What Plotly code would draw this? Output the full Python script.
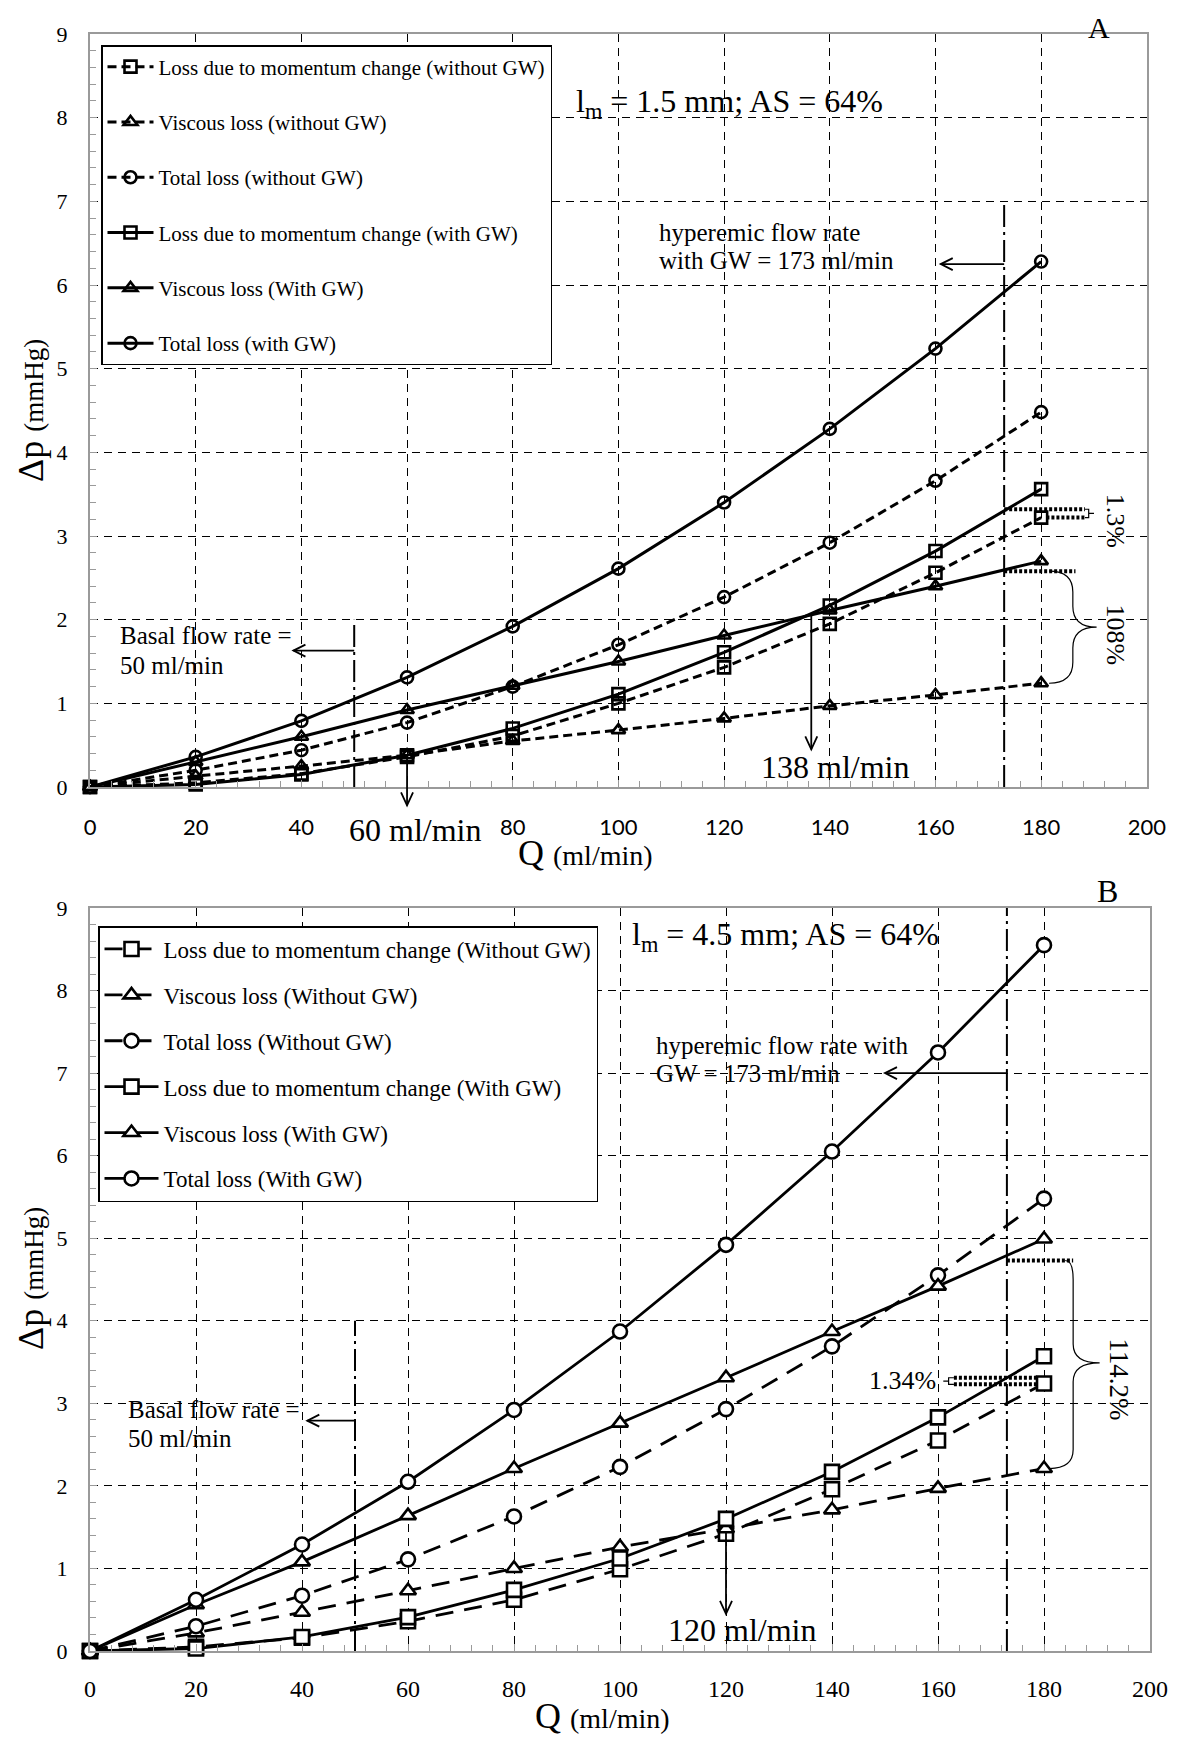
import plotly.graph_objects as go

# ---------------- data ----------------
Q = [0, 20, 40, 60, 80, 100, 120, 140, 160, 180]

# Panel A  (l_m = 1.5 mm)
a_mom_wo = [0, 0.05, 0.16, 0.36, 0.61, 1.00, 1.43, 1.95, 2.56, 3.22]
a_visc_wo = [0, 0.13, 0.25, 0.38, 0.55, 0.68, 0.82, 0.97, 1.10, 1.24]
a_tot_wo = [0, 0.20, 0.44, 0.77, 1.20, 1.70, 2.27, 2.92, 3.66, 4.48]
a_mom_w = [0, 0.03, 0.15, 0.38, 0.70, 1.11, 1.61, 2.17, 2.82, 3.56]
a_visc_w = [0, 0.30, 0.60, 0.92, 1.21, 1.50, 1.81, 2.11, 2.40, 2.70]
a_tot_w = [0, 0.36, 0.79, 1.31, 1.92, 2.61, 3.40, 4.28, 5.24, 6.28]

# Panel B  (l_m = 4.5 mm)
b_mom_wo = [0, 0.05, 0.16, 0.36, 0.62, 0.99, 1.42, 1.96, 2.55, 3.24]
b_visc_wo = [0, 0.22, 0.47, 0.73, 1.00, 1.26, 1.48, 1.71, 1.97, 2.21]
b_tot_wo = [0, 0.30, 0.67, 1.11, 1.63, 2.23, 2.93, 3.69, 4.55, 5.48]
b_mom_w = [0, 0.03, 0.17, 0.41, 0.74, 1.12, 1.60, 2.17, 2.83, 3.57]
b_visc_w = [0, 0.56, 1.08, 1.64, 2.21, 2.76, 3.31, 3.87, 4.42, 4.99]
b_tot_w = [0, 0.62, 1.29, 2.05, 2.92, 3.87, 4.92, 6.05, 7.25, 8.55]

names_a = ["Loss due to momentum change (without GW)", "Viscous loss (without GW)",
           "Total loss (without GW)", "Loss due to momentum change (with GW)",
           "Viscous loss (With GW)", "Total loss (with GW)"]
names_b = ["Loss due to momentum change (Without GW)", "Viscous loss (Without GW)",
           "Total loss (Without GW)", "Loss due to momentum change (With GW)",
           "Viscous loss (With GW)", "Total loss (With GW)"]

x_ticks = [0, 20, 40, 60, 80, 100, 120, 140, 160, 180, 200]
x_labels_a = ["0", "20", "40", "", "80", "100", "120", "140", "160", "180", "200"]
x_labels_b = ["0", "20", "40", "60", "80", "100", "120", "140", "160", "180", "200"]
y_ticks = [0, 1, 2, 3, 4, 5, 6, 7, 8, 9]

SERIF = "Liberation Serif"
SANS = "Lato"

fig = go.Figure()
symbols = ["square", "triangle-up", "circle"] * 2

series_a = [a_mom_wo, a_visc_wo, a_tot_wo, a_mom_w, a_visc_w, a_tot_w]
for i, (vals, nm) in enumerate(zip(series_a, names_a)):
    dashed = i < 3
    fig.add_trace(go.Scatter(
        x=Q, y=vals, name=nm, mode="lines+markers", xaxis="x", yaxis="y",
        legend="legend", legendgroup="a%d" % i, cliponaxis=False,
        line=dict(color="black", width=3, dash="9px,5px" if dashed else "solid"),
        marker=dict(symbol=symbols[i] + "-open", size=12, color="black",
                    line=dict(color="black", width=2.6)),
    ))

series_b = [b_mom_wo, b_visc_wo, b_tot_wo, b_mom_w, b_visc_w, b_tot_w]
for i, (vals, nm) in enumerate(zip(series_b, names_b)):
    dashed = i < 3
    fig.add_trace(go.Scatter(
        x=Q, y=vals, name=nm, mode="lines+markers", xaxis="x2", yaxis="y2",
        legend="legend2", legendgroup="b%d" % i, cliponaxis=False,
        line=dict(color="black", width=2.8, dash="18px,11px" if dashed else "solid"),
        marker=dict(symbol=symbols[i], size=14, color="white",
                    line=dict(color="black", width=2.6)),
    ))

def axis_common(tickvals, ticktext, dtick_minor, font, standoff):
    return dict(
        tickvals=tickvals, ticktext=ticktext, showgrid=True, gridcolor="black", gridwidth=1,
        griddash="8px,6px", showline=True, linecolor="#9a9a9a", linewidth=2,
        mirror=True, ticks="inside", ticklen=7, tickcolor="#9a9a9a",
        minor=dict(ticks="inside", dtick=dtick_minor, ticklen=6, tickcolor="#9a9a9a",
                   showgrid=False),
        zeroline=False, tickfont=font, ticklabelstandoff=standoff,
    )

# page has an 8px body margin; figure is placed at (8, 8)
W, H = 1192, 1750
L, R, T, B = 82, 50, 26, 107
PW = W - L - R
PH = H - T - B

def px(sx):  # screen pixel x -> paper x
    return (sx - 8 - L) / PW

def py(sy):  # screen pixel y -> paper y
    return (H - B - (sy - 8)) / PH

A_X1 = 0.997
A_Y0 = py(787)
B_Y1 = py(908)

def paA(q, v):
    return A_X1 * q / 200.0, A_Y0 + (1 - A_Y0) * v / 9.0

def paB(q, v):
    return q / 200.0, B_Y1 * v / 9.0

xa = axis_common(x_ticks, x_labels_a, 4, dict(family=SANS, size=22, color="black"), 20)
xa.update(domain=[0, A_X1], anchor="y", range=[0, 200])
ya = axis_common(y_ticks, [str(v) for v in y_ticks], 0.2,
                 dict(family=SERIF, size=22, color="black"), 16)
ya.update(domain=[A_Y0, 1], anchor="x", range=[0, 9])
xb = axis_common(x_ticks, x_labels_b, 4, dict(family=SERIF, size=24, color="black"), 15)
xb.update(domain=[0, 1], anchor="y2", range=[0, 200])
yb = axis_common(y_ticks, [str(v) for v in y_ticks], 0.2,
                 dict(family=SERIF, size=22, color="black"), 16)
yb.update(domain=[0, B_Y1], anchor="x2", range=[0, 9])

shapes = []
annotations = []

def vline(x, y0, y1, xr, yr, dash="22px,5px,3px,5px", width=2):
    shapes.append(dict(type="line", xref=xr, yref=yr, x0=x, x1=x, y0=y0, y1=y1,
                       line=dict(color="black", width=width, dash=dash)))

def hline(y, x0, x1, xr, yr, dash="solid", width=1.8):
    shapes.append(dict(type="line", xref=xr, yref=yr, x0=x0, x1=x1, y0=y, y1=y,
                       line=dict(color="black", width=width, dash=dash)))

def seg(x0, y0, x1, y1, xr, yr, width=1.8):
    shapes.append(dict(type="line", xref=xr, yref=yr, x0=x0, x1=x1, y0=y0, y1=y1,
                       line=dict(color="black", width=width)))

def head(x, y, xr, yr, direction):
    if direction == "left":
        p = "M 12 -6 L 0 0 L 12 6"
    else:
        p = "M -6 13 L 0 0 L 6 13"
    shapes.append(dict(type="path", xref=xr, yref=yr, xsizemode="pixel", ysizemode="pixel",
                       xanchor=x, yanchor=y, path=p,
                       line=dict(color="black", width=1.8)))

def text(t, x, y, xr, yr, size, xanchor="left", angle=0, yanchor="middle"):
    annotations.append(dict(text=t, x=x, y=y, xref=xr, yref=yr, showarrow=False,
                            xanchor=xanchor, yanchor=yanchor, align="left",
                            textangle=angle,
                            font=dict(family=SERIF, size=size, color="black")))

def path(p, xr, yr, width=1.2, dash="solid"):
    shapes.append(dict(type="path", xref=xr, yref=yr, path=p,
                       line=dict(color="black", width=width, dash=dash)))

# ---------- Panel A annotations ----------
text("l<sub>m</sub> = 1.5 mm; AS = 64%", 91.5, 8.17, "x", "y", 32)
text("A", px(1099), py(27), "paper", "paper", 30, xanchor="center")
text("hyperemic flow rate", 107.3, 6.63, "x", "y", 25)
text("with GW = 173 ml/min", 107.3, 6.29, "x", "y", 25)
vline(173, 0, 7.0, "x", "y")
hline(6.25, 173, 161, "x", "y")
head(161, 6.25, "x", "y", "left")
text("Basal flow rate =", 5.3, 1.81, "x", "y", 25)
text("50 ml/min", 5.3, 1.45, "x", "y", 25)
vline(50, 0, 2.0, "x", "y")
hline(1.63, 50, 38.5, "x", "y")
head(38.5, 1.63, "x", "y", "left")
x60, y60a = paA(60, 0.38)
_, y60b = paA(60, -0.22)
seg(x60, y60a, x60, y60b, "paper", "paper")
head(x60, y60b, "paper", "paper", "down")
tx, ty = paA(61.5, -0.51)
text("60 ml/min", tx, ty, "paper", "paper", 32, xanchor="center")
seg(136.5, 2.05, 136.5, 0.45, "x", "y")
head(136.5, 0.45, "x", "y", "down")
text("138 ml/min", 141, 0.24, "x", "y", 32, xanchor="center")
hline(3.32, 173, 188.3, "x", "y", dash="3px,2px", width=4)
hline(3.22, 181, 188.3, "x", "y", dash="3px,2px", width=4)
path("M 188.3,3.32 L 189,3.32 L 189,3.22 L 188.3,3.22 M 189,3.27 L 190,3.27", "x", "y")
text("1.3%", 194, 3.18, "x", "y", 26, xanchor="center", angle=90)
hline(2.58, 173, 186.5, "x", "y", dash="3px,2px", width=4)
path("M 181.5,2.58 Q 186,2.58 186,2.33 L 186,2.16 Q 186,1.91 190.5,1.91 "
     "Q 186,1.91 186,1.66 L 186,1.49 Q 186,1.24 181.5,1.24", "x", "y")
text("108%", 194, 1.82, "x", "y", 26, xanchor="center", angle=90)

# ---------- Panel B annotations ----------
text("l<sub>m</sub> = 4.5 mm; AS = 64%", 101.8, 8.66, "x2", "y2", 32)
bx_, by_ = paB(192, 9.2)
text("B", bx_, by_, "paper", "paper", 32, xanchor="center")
text("hyperemic flow rate with", 106.4, 7.34, "x2", "y2", 25)
text("GW = 173 ml/min", 106.4, 7.0, "x2", "y2", 25)
vline(173, 0, 9, "x2", "y2")
hline(7.0, 173, 150, "x2", "y2")
head(150, 7.0, "x2", "y2", "left")
text("Basal flow rate =", 6.8, 2.92, "x2", "y2", 25)
text("50 ml/min", 6.8, 2.57, "x2", "y2", 25)
vline(50, 0, 4.0, "x2", "y2")
hline(2.79, 50, 41, "x2", "y2")
head(41, 2.79, "x2", "y2", "left")
seg(120, 1.45, 120, 0.45, "x2", "y2")
head(120, 0.45, "x2", "y2", "down")
text("120 ml/min", 123, 0.26, "x2", "y2", 32, xanchor="center")
text("1.34%", 160, 3.28, "x2", "y2", 26, xanchor="right")
path("M 163,3.31 L 162,3.31 L 162,3.23 L 163,3.23 M 162,3.27 L 161,3.27", "x2", "y2")
hline(3.31, 163, 179, "x2", "y2", dash="3px,2px", width=4)
hline(3.23, 163, 179, "x2", "y2", dash="3px,2px", width=4)
hline(4.73, 173, 185.5, "x2", "y2", dash="3px,2px", width=4)
path("M 184,4.73 Q 185.5,4.73 185.5,4.5 L 185.5,3.72 Q 185.5,3.49 190.5,3.49 "
     "Q 185.5,3.49 185.5,3.26 L 185.5,2.44 Q 185.5,2.21 181,2.21", "x2", "y2")
text("114.2%", 194, 3.29, "x2", "y2", 27, xanchor="center", angle=90)

# ---------- axis titles ----------
def title(t, sx, sy, size, angle=0):
    annotations.append(dict(text=t, x=px(sx), y=py(sy), xref="paper", yref="paper",
                            showarrow=False, xanchor="center", yanchor="middle",
                            textangle=angle, font=dict(family=SERIF, size=size, color="black")))

title("Δp <span style='font-size:27px'>(mmHg)</span>", 31, 411, 36, -90)
title("Q <span style='font-size:28px'>(ml/min)</span>", 585, 853, 36)
title("Δp <span style='font-size:27px'>(mmHg)</span>", 31, 1279, 36, -90)
title("Q <span style='font-size:28px'>(ml/min)</span>", 602, 1716, 36)

fig.update_layout(
    width=W, height=H, margin=dict(l=L, r=R, t=T, b=B),
    paper_bgcolor="white", plot_bgcolor="white",
    xaxis=xa, yaxis=ya, xaxis2=xb, yaxis2=yb,
    shapes=shapes, annotations=annotations,
    legend=dict(x=px(101), y=py(45), xanchor="left", yanchor="top",
                bgcolor="white", bordercolor="black", borderwidth=1.5,
                font=dict(family=SERIF, size=21, color="black"),
                tracegroupgap=25, itemwidth=46),
    legend2=dict(x=px(98), y=py(926), xanchor="left", yanchor="top",
                 bgcolor="white", bordercolor="black", borderwidth=1.5,
                 font=dict(family=SERIF, size=23, color="black"),
                 tracegroupgap=13, itemwidth=54),
    showlegend=True,
)

fig.write_html("out.html")
